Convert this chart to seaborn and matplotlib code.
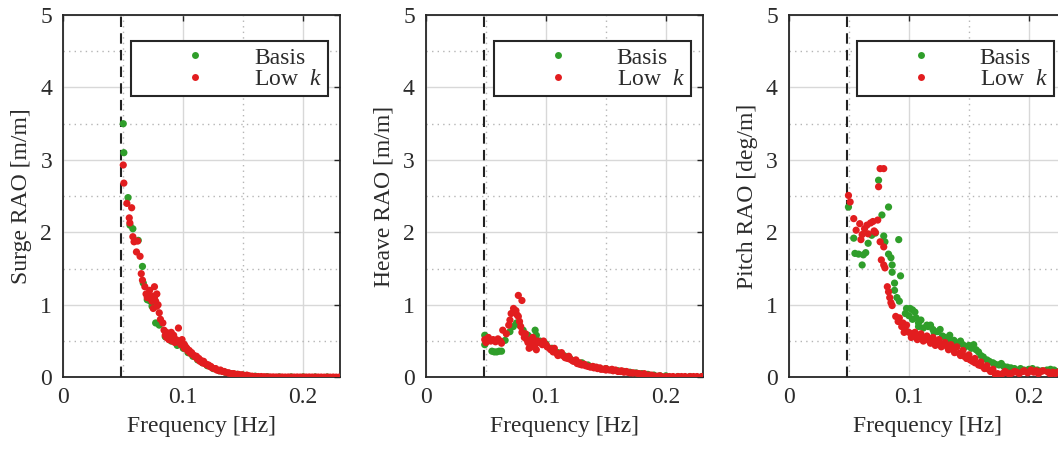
import numpy as np
import pandas as pd
import matplotlib
matplotlib.use("Agg")
import matplotlib.pyplot as plt
import seaborn as sns
from matplotlib.lines import Line2D

# ---------------- data ----------------
series_names = ["Basis", r"Low  $k$"]
panel_ylabels = ["Surge RAO [m/m]", "Heave RAO [m/m]", "Pitch RAO [deg/m]"]
x_label = "Frequency [Hz]"
xtick_values = [0, 0.1, 0.2]
xtick_labels = ["0", "0.1", "0.2"]
ytick_values = [0, 1, 2, 3, 4, 5]
ytick_labels = ["0", "1", "2", "3", "4", "5"]
cutoff_freq = 0.048

surge_basis_freq = [0.0500, 0.0505, 0.0540, 0.0556, 0.0580, 0.0625, 0.0660, 0.0667, 0.0700, 0.0725,
                    0.0740, 0.0770, 0.0800, 0.0850, 0.0900, 0.0950, 0.1000, 0.1040, 0.1080, 0.1120,
                    0.1160, 0.1200, 0.1250, 0.1300, 0.1350, 0.1400, 0.1450, 0.1500, 0.1600, 0.1700,
                    0.1800, 0.1900, 0.2000, 0.2100, 0.2200]
surge_basis_rao = [3.50, 3.10, 2.48, 2.10, 2.05, 1.89, 1.53, 1.30, 1.07, 1.05,
                   0.98, 0.75, 0.72, 0.56, 0.50, 0.44, 0.40, 0.34, 0.29, 0.24,
                   0.20, 0.16, 0.12, 0.09, 0.07, 0.05, 0.04, 0.03, 0.015, 0.008,
                   0.005, 0.005, 0.005, 0.004, 0.004]

surge_lowk_freq = [0.0500, 0.0505, 0.0530, 0.0550, 0.0555, 0.0570, 0.0580, 0.0590, 0.0610, 0.0620,
                   0.0640, 0.0650, 0.0660, 0.0680, 0.0690, 0.0700, 0.0720, 0.0730, 0.0750, 0.0760,
                   0.0770, 0.0780, 0.0800, 0.0810, 0.0830, 0.0840, 0.0850, 0.0860, 0.0870, 0.0880,
                   0.0890, 0.0900, 0.0910, 0.0920, 0.0940, 0.0960, 0.0970, 0.0980, 0.1000, 0.1010,
                   0.1020, 0.1040, 0.1060, 0.1080, 0.1100, 0.1120, 0.1140, 0.1160, 0.1180, 0.1200,
                   0.1220, 0.1240, 0.1260, 0.1280, 0.1300, 0.1325, 0.1350, 0.1375, 0.1400, 0.1425,
                   0.1450, 0.1475, 0.1500, 0.1525, 0.1550, 0.1575, 0.1600, 0.1625, 0.1650, 0.1675,
                   0.1700, 0.1725, 0.1750, 0.1775, 0.1800, 0.1825, 0.1850, 0.1875, 0.1900, 0.1925,
                   0.1950, 0.1975, 0.2000, 0.2025, 0.2050, 0.2075, 0.2100, 0.2125, 0.2150, 0.2175,
                   0.2200, 0.2225, 0.2250, 0.2275, 0.2300,
                   0.0710, 0.0740, 0.0760, 0.0780, 0.0790, 0.0750, 0.0860, 0.0880, 0.0900, 0.0920,
                   0.0930, 0.0950, 0.0990, 0.1010, 0.1030, 0.1050, 0.1070, 0.1090, 0.1110, 0.1130,
                   0.1150, 0.1170, 0.1190, 0.1210, 0.1230, 0.1270, 0.1310, 0.1340, 0.1380, 0.1420,
                   0.1460, 0.1490, 0.1530]
surge_lowk_rao = [2.93, 2.68, 2.40, 2.20, 2.13, 2.34, 1.94, 1.87, 1.73, 1.88,
                  1.67, 1.43, 1.34, 1.25, 1.15, 1.10, 1.20, 1.08, 1.12, 1.25,
                  1.05, 0.98, 0.89, 0.80, 0.75, 0.65, 0.58, 0.62, 0.55, 0.60,
                  0.52, 0.57, 0.50, 0.55, 0.52, 0.68, 0.50, 0.45, 0.46, 0.40,
                  0.42, 0.36, 0.33, 0.31, 0.28, 0.25, 0.22, 0.20, 0.19, 0.17,
                  0.15, 0.13, 0.12, 0.10, 0.09, 0.08, 0.07, 0.06, 0.05, 0.045,
                  0.04, 0.03, 0.025, 0.02, 0.02, 0.015, 0.01, 0.01, 0.01, 0.008,
                  0.006, 0.005, 0.005, 0.004, 0.004, 0.004, 0.003, 0.004, 0.003, 0.003,
                  0.004, 0.003, 0.003, 0.003, 0.004, 0.003, 0.003, 0.003, 0.003, 0.002,
                  0.003, 0.002, 0.003, 0.002, 0.002,
                  1.13, 1.05, 1.10, 1.15, 1.00, 0.95, 0.55, 0.52, 0.62, 0.58,
                  0.48, 0.50, 0.52, 0.45, 0.40, 0.37, 0.34, 0.30, 0.29, 0.26,
                  0.23, 0.22, 0.18, 0.17, 0.15, 0.12, 0.10, 0.08, 0.06, 0.05,
                  0.04, 0.035, 0.03]

heave_basis_freq = [0.0490, 0.0490, 0.0510, 0.0550, 0.0570, 0.0590, 0.0610, 0.0630, 0.0660, 0.0700,
                    0.0728, 0.0755, 0.0780, 0.0810, 0.0850, 0.0880, 0.0910, 0.0920, 0.0950, 0.1000,
                    0.1050, 0.1100, 0.1150, 0.1200, 0.1250, 0.1300, 0.1350, 0.1400, 0.1450, 0.1500,
                    0.1550, 0.1600, 0.1650, 0.1700, 0.1750, 0.1800, 0.1850, 0.1900, 0.1950, 0.2000,
                    0.2100, 0.2200, 0.2300]
heave_basis_rao = [0.58, 0.45, 0.50, 0.36, 0.35, 0.35, 0.36, 0.36, 0.51, 0.63,
                   0.70, 0.75, 0.72, 0.65, 0.58, 0.55, 0.65, 0.58, 0.50, 0.46,
                   0.40, 0.34, 0.30, 0.26, 0.22, 0.20, 0.17, 0.14, 0.12, 0.12,
                   0.10, 0.09, 0.08, 0.07, 0.06, 0.05, 0.04, 0.03, 0.02, 0.02,
                   0.01, 0.01, 0.01]

heave_lowk_freq = [0.0490, 0.0500, 0.0520, 0.0540, 0.0560, 0.0580, 0.0600, 0.0620, 0.0630, 0.0640,
                   0.0670, 0.0690, 0.0700, 0.0710, 0.0730, 0.0740, 0.0750, 0.0760, 0.0770, 0.0770,
                   0.0780, 0.0790, 0.0800, 0.0800, 0.0820, 0.0840, 0.0870, 0.0880, 0.0900, 0.0920,
                   0.0940, 0.0970, 0.1000, 0.1030, 0.1060, 0.1090, 0.1120, 0.1150, 0.1180, 0.1200,
                   0.1230, 0.1260, 0.1280, 0.1300, 0.1330, 0.1370, 0.1400, 0.1430, 0.1460, 0.1480,
                   0.1500, 0.1530, 0.1560, 0.1600, 0.1620, 0.1650, 0.1680, 0.1700, 0.1730, 0.1760,
                   0.1800, 0.1830, 0.1860, 0.1900, 0.1930, 0.1960, 0.2000, 0.2030, 0.2060, 0.2100,
                   0.2130, 0.2160, 0.2200, 0.2230, 0.2260, 0.2300,
                   0.0830, 0.0850, 0.0860, 0.0890, 0.0910, 0.0930, 0.0980, 0.1010, 0.1040, 0.1070,
                   0.1100, 0.1130, 0.1160, 0.1190, 0.1220, 0.1250, 0.1280, 0.1320, 0.1350, 0.1390,
                   0.1420, 0.1450, 0.1500, 0.1550, 0.1580, 0.1630, 0.1670, 0.1720, 0.1780, 0.1820,
                   0.1880, 0.1950]
heave_lowk_rao = [0.52, 0.48, 0.55, 0.50, 0.52, 0.49, 0.53, 0.50, 0.47, 0.65,
                  0.60, 0.72, 0.79, 0.88, 0.95, 0.90, 0.92, 0.86, 0.84, 1.13,
                  0.77, 0.70, 1.06, 0.62, 0.55, 0.52, 0.51, 0.42, 0.45, 0.38,
                  0.48, 0.45, 0.45, 0.40, 0.35, 0.33, 0.31, 0.29, 0.26, 0.25,
                  0.22, 0.19, 0.18, 0.17, 0.16, 0.14, 0.13, 0.12, 0.11, 0.11,
                  0.10, 0.10, 0.09, 0.08, 0.08, 0.07, 0.07, 0.06, 0.06, 0.055,
                  0.04, 0.035, 0.03, 0.02, 0.015, 0.012, 0.01, 0.01, 0.01, 0.01,
                  0.01, 0.01, 0.01, 0.01, 0.01, 0.01,
                  0.60, 0.48, 0.40, 0.55, 0.45, 0.50, 0.50, 0.42, 0.38, 0.40,
                  0.30, 0.34, 0.27, 0.29, 0.23, 0.24, 0.20, 0.18, 0.15, 0.15,
                  0.14, 0.13, 0.12, 0.11, 0.10, 0.09, 0.08, 0.06, 0.05, 0.05,
                  0.03, 0.02]

pitch_basis_freq = [0.0496, 0.0540, 0.0550, 0.0580, 0.0610, 0.0620, 0.0640, 0.0660, 0.0690, 0.0720,
                    0.0747, 0.0775, 0.0790, 0.0800, 0.0830, 0.0830, 0.0850, 0.0860, 0.0860, 0.0880,
                    0.0880, 0.0915, 0.0930, 0.0900, 0.0920, 0.0970, 0.1010, 0.1050, 0.1030, 0.1080,
                    0.1100, 0.1150, 0.1160, 0.1200, 0.1240, 0.1280, 0.1330, 0.1375, 0.1420, 0.1450,
                    0.1500, 0.1540, 0.1560, 0.1600, 0.1650, 0.1700, 0.1750, 0.1790, 0.1850, 0.1930,
                    0.2000, 0.2070, 0.2150, 0.2210, 0.2280,
                    0.0980, 0.1000, 0.1030, 0.1060, 0.1080, 0.1120, 0.1180, 0.1210, 0.1260, 0.1300,
                    0.1340, 0.1390, 0.1430, 0.1470, 0.1520, 0.1580, 0.1620, 0.1670, 0.1720, 0.1770,
                    0.1820, 0.1880, 0.1960, 0.2030, 0.2110, 0.2180, 0.2250, 0.2300]
pitch_basis_rao = [2.35, 1.92, 1.71, 1.70, 1.55, 1.69, 1.72, 1.85, 1.96, 1.99,
                   2.72, 2.24, 1.95, 1.87, 2.35, 1.70, 1.65, 1.55, 1.45, 1.30,
                   1.20, 1.90, 1.40, 1.10, 1.05, 0.88, 0.95, 0.90, 0.80, 0.75,
                   0.79, 0.72, 0.70, 0.66, 0.63, 0.57, 0.52, 0.51, 0.48, 0.45,
                   0.44, 0.45, 0.38, 0.30, 0.24, 0.20, 0.17, 0.15, 0.13, 0.12,
                   0.11, 0.10, 0.10, 0.10, 0.09,
                   0.95, 0.85, 0.93, 0.82, 0.70, 0.68, 0.72, 0.62, 0.66, 0.55,
                   0.58, 0.47, 0.50, 0.42, 0.40, 0.35, 0.28, 0.22, 0.18, 0.19,
                   0.14, 0.12, 0.10, 0.12, 0.09, 0.11, 0.08, 0.10]

pitch_lowk_freq = [0.0496, 0.0510, 0.0540, 0.0560, 0.0590, 0.0600, 0.0610, 0.0630, 0.0650, 0.0660,
                   0.0680, 0.0700, 0.0710, 0.0720, 0.0740, 0.0747, 0.0760, 0.0790, 0.0760, 0.0790,
                   0.0770, 0.0790, 0.0800, 0.0820, 0.0830, 0.0840, 0.0850, 0.0860, 0.0890, 0.0910,
                   0.0940, 0.0970, 0.1000, 0.1030, 0.1060, 0.1100, 0.1150, 0.1200, 0.1240, 0.1280,
                   0.1320, 0.1375, 0.1420, 0.1460, 0.1510, 0.1550, 0.1600, 0.1650, 0.1700, 0.1740,
                   0.1780, 0.1820, 0.1860, 0.1900, 0.1950, 0.2017, 0.2060, 0.2100, 0.2160, 0.2200,
                   0.2240, 0.2280,
                   0.0920, 0.0950, 0.0980, 0.0960, 0.1020, 0.1050, 0.1070, 0.1100, 0.1120, 0.1150,
                   0.1180, 0.1200, 0.1220, 0.1250, 0.1270, 0.1300, 0.1330, 0.1350, 0.1380, 0.1400,
                   0.1430, 0.1450, 0.1480, 0.1500, 0.1530, 0.1550, 0.1580, 0.1600, 0.1630, 0.1650,
                   0.1680, 0.1700, 0.1720, 0.1760, 0.1800, 0.1840, 0.1880, 0.1920, 0.1960, 0.1990,
                   0.2040, 0.2080, 0.2120, 0.2180, 0.2220, 0.2260, 0.2300]
pitch_lowk_rao = [2.51, 2.42, 2.19, 2.03, 2.12, 1.90, 1.97, 2.05, 2.10, 1.98,
                  2.13, 2.15, 2.02, 2.00, 2.17, 2.63, 2.88, 2.88, 1.87, 1.80,
                  1.62, 1.55, 1.51, 1.25, 1.18, 1.10, 1.03, 0.99, 0.84, 0.77,
                  0.70, 0.66, 0.62, 0.60, 0.57, 0.56, 0.52, 0.50, 0.49, 0.45,
                  0.42, 0.38, 0.33, 0.29, 0.24, 0.20, 0.16, 0.12, 0.08, 0.05,
                  0.05, 0.06, 0.06, 0.07, 0.08, 0.10, 0.09, 0.08, 0.07, 0.07,
                  0.07, 0.06,
                  0.82, 0.75, 0.72, 0.62, 0.55, 0.62, 0.52, 0.60, 0.50, 0.57,
                  0.47, 0.55, 0.44, 0.52, 0.42, 0.48, 0.38, 0.45, 0.34, 0.42,
                  0.30, 0.37, 0.26, 0.31, 0.22, 0.26, 0.17, 0.21, 0.12, 0.16,
                  0.08, 0.11, 0.04, 0.03, 0.08, 0.04, 0.08, 0.05, 0.09, 0.06,
                  0.07, 0.05, 0.09, 0.04, 0.05, 0.08, 0.05]

panels = [
    (surge_basis_freq, surge_basis_rao, surge_lowk_freq, surge_lowk_rao),
    (heave_basis_freq, heave_basis_rao, heave_lowk_freq, heave_lowk_rao),
    (pitch_basis_freq, pitch_basis_rao, pitch_lowk_freq, pitch_lowk_rao),
]

# ---------------- style ----------------
sns.set_theme(style="white")
plt.rcParams["font.family"] = ["Liberation Serif", "DejaVu Serif"]
plt.rcParams["mathtext.fontset"] = "custom"
plt.rcParams["mathtext.rm"] = "Liberation Serif"
plt.rcParams["mathtext.it"] = "Liberation Serif:italic"

green = "#2f9e2a"
red = "#e21d1f"
colors = [green, red]
text_color = "#2b2b2b"
fs = 17

fig = plt.figure(figsize=(10.58, 4.50), dpi=100)
lefts = [0.0598, 0.4026, 0.7457]
width, bottom, height = 0.2615, 0.1616, 0.805

for i, (bf, bv, lf, lv) in enumerate(panels):
    ax = fig.add_axes([lefts[i], bottom, width, height])
    df = pd.concat([
        pd.DataFrame({"freq": bf, "rao": bv, "case": series_names[0]}),
        pd.DataFrame({"freq": lf, "rao": lv, "case": series_names[1]}),
    ], ignore_index=True)
    for name, col in zip(series_names, colors):
        sub = df[df["case"] == name]
        sns.scatterplot(data=sub, x="freq", y="rao", color=col, s=27,
                        edgecolor="none", linewidth=0, ax=ax, legend=False, zorder=3)

    ax.set_xlim(0, 0.2306)
    ax.set_ylim(0, 5)
    ax.set_xticks(xtick_values, xtick_labels)
    ax.set_yticks(ytick_values, ytick_labels)
    ax.set_xticks([0.05, 0.15], minor=True)
    ax.set_yticks([0.5, 1.5, 2.5, 3.5, 4.5], minor=True)
    ax.grid(which="major", color="#d8d8d8", linewidth=1.0, linestyle="-", zorder=0)
    ax.grid(which="minor", color="#b5b5b5", linewidth=1.0, linestyle=(0, (1, 3)), zorder=0)
    ax.set_axisbelow(True)
    ax.tick_params(which="major", direction="in", length=4, width=1.0, color="#262626",
                   top=True, right=True, labelsize=fs, labelcolor=text_color)
    ax.tick_params(axis="x", which="major", pad=7)
    ax.tick_params(axis="y", which="major", pad=8)
    ax.tick_params(which="minor", length=0)
    for sp in ax.spines.values():
        sp.set_color("#262626")
        sp.set_linewidth(1.3)

    ax.axvline(cutoff_freq, color="#222222", linewidth=1.5, linestyle=(0, (5, 3)), zorder=2)

    ax.set_xlabel(x_label, fontsize=fs, color=text_color, labelpad=6)
    ax.set_ylabel(panel_ylabels[i], fontsize=fs, color=text_color, labelpad=6)

    handles = [Line2D([], [], linestyle="none", marker="o", markersize=5,
                      markerfacecolor=c, markeredgecolor="none") for c in colors]
    leg = ax.legend(handles, series_names, loc="upper right",
                    bbox_to_anchor=(0.9566, 0.928), borderaxespad=0,
                    fontsize=fs, frameon=True, fancybox=False, framealpha=1,
                    edgecolor="#262626", borderpad=0.25, labelspacing=0.0,
                    handlelength=4.9, handletextpad=0.05, numpoints=1)
    leg.get_frame().set_linewidth(1.5)
    for t in leg.get_texts():
        t.set_color(text_color)

fig.savefig("out.png", dpi=100)
